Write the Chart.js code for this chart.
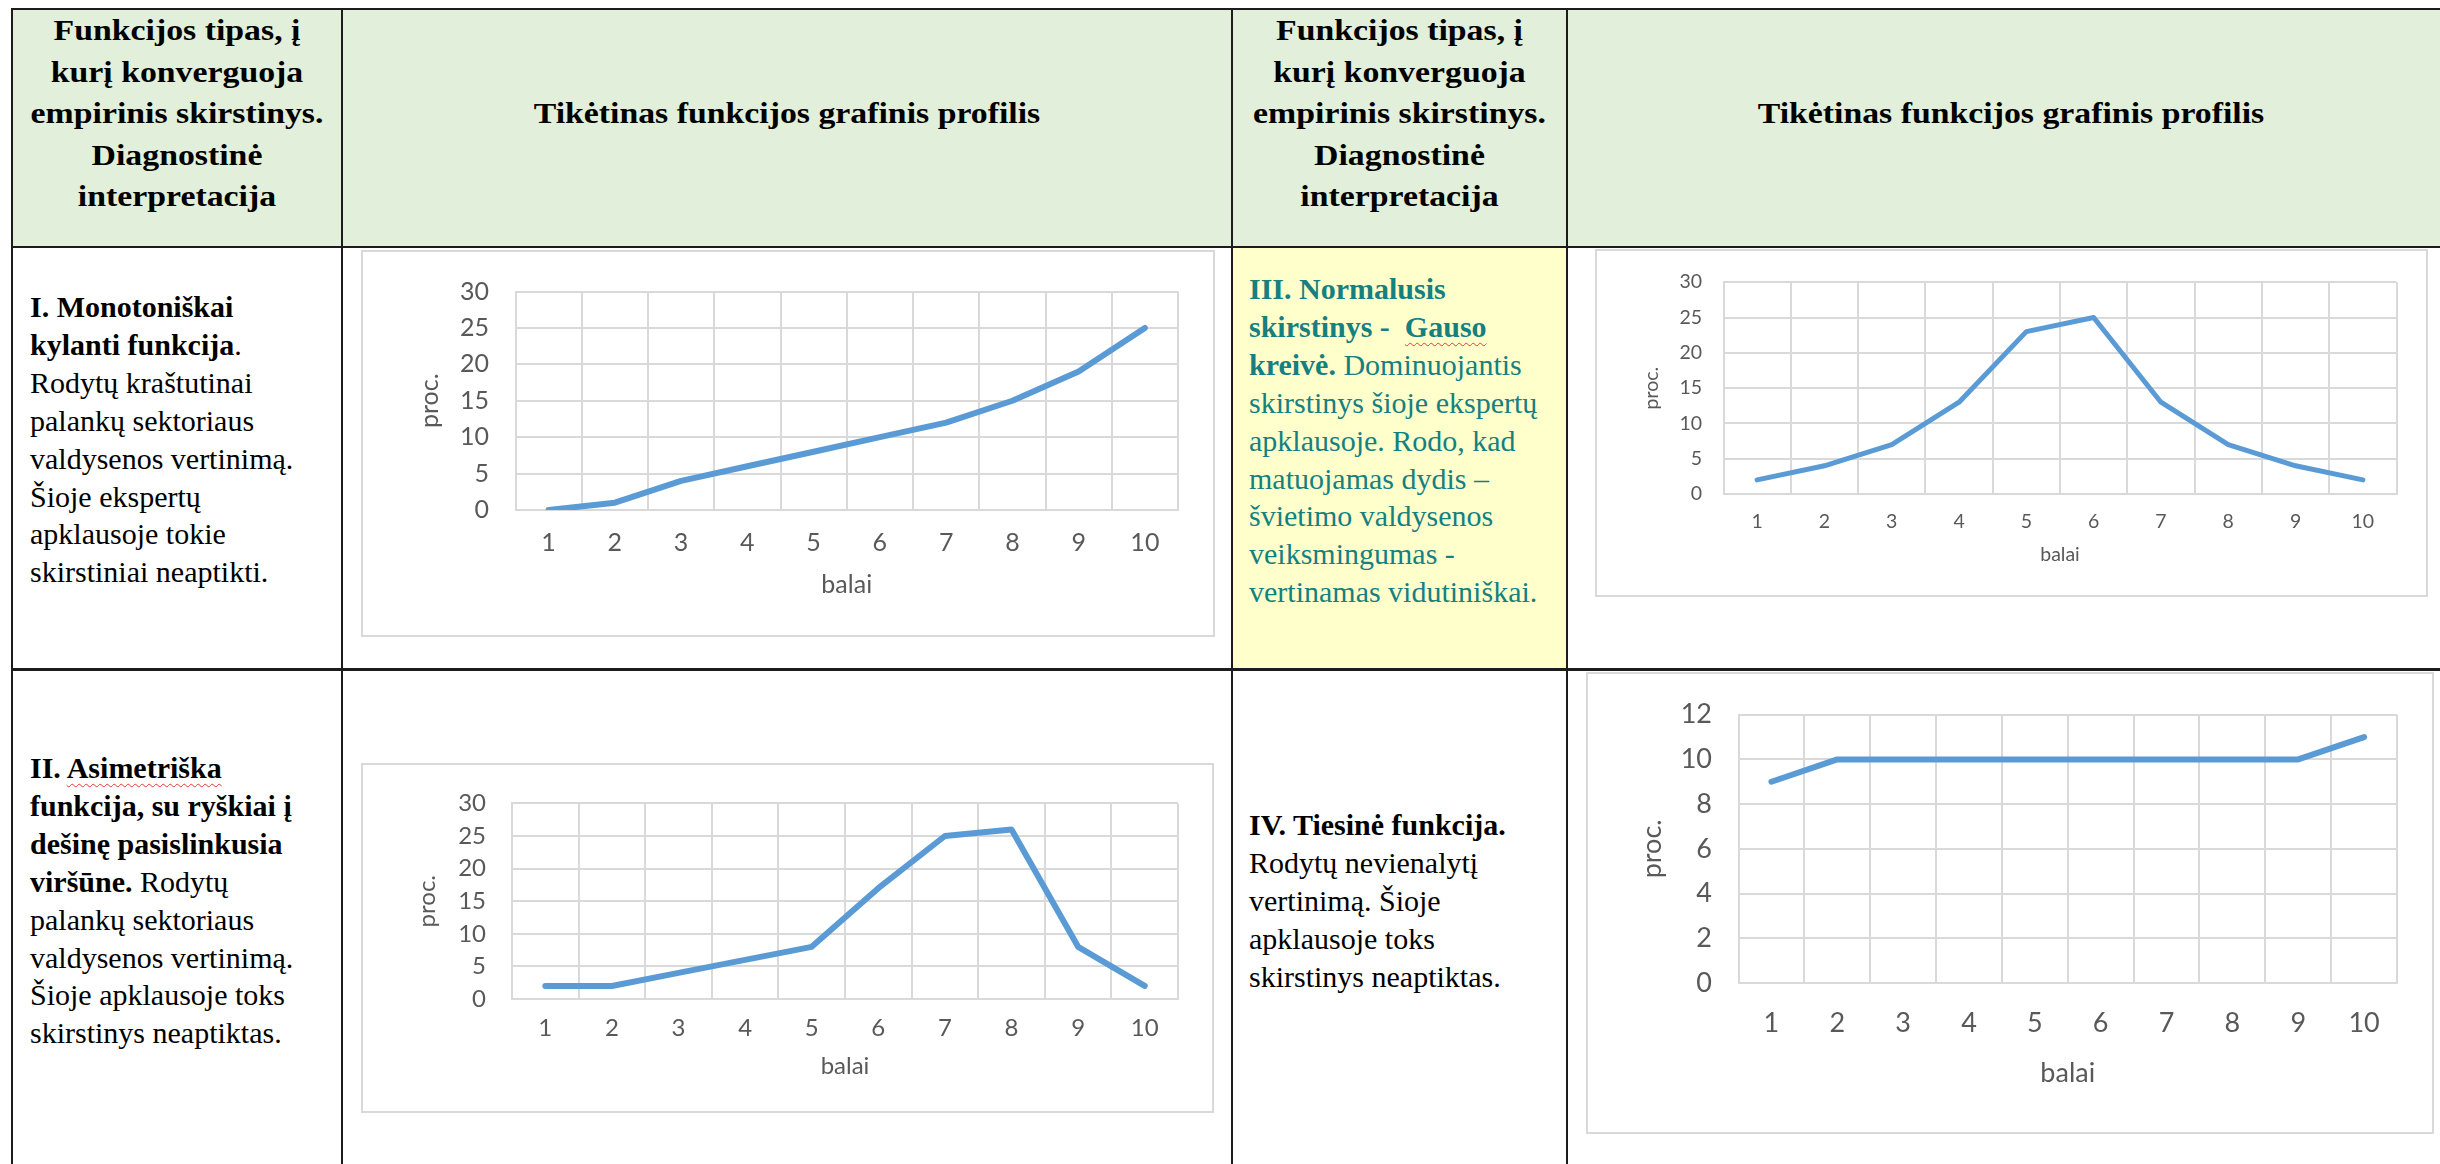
<!DOCTYPE html>
<html lang="lt">
<head>
<meta charset="utf-8">
<title>Tikėtinas funkcijos grafinis profilis</title>
<script src="https://cdn.jsdelivr.net/npm/chart.js@4.4.1/dist/chart.umd.min.js"></script>
<style>
  html, body { margin: 0; padding: 0; background: #fff; }
  body { width: 2440px; height: 1164px; position: relative; overflow: hidden;
         font-family: "Liberation Serif", "Times New Roman", serif; color: #000; }
  .line { position: absolute; background: #1c1c1c; }
  .fill { position: absolute; }
  .head { position: absolute; font-weight: bold; font-size: 29px; line-height: 41.5px;
          text-align: center; white-space: nowrap; transform: scaleX(1.165); transform-origin: center top; }
  .txt { position: absolute; font-size: 30px; line-height: 37.9px; white-space: nowrap; }
  .teal { color: #15807f; }
  .spell { text-decoration: underline wavy #e53935; text-decoration-thickness: 1px; text-underline-offset: 5px; }
  .box { position: absolute; border: 2px solid #d9d9d9; box-sizing: border-box; }
  canvas { position: absolute; }
</style>
</head>
<body>

<!-- cell backgrounds -->
<div class="fill" style="left:13px;top:10px;width:2440px;height:236px;background:#e2efda;"></div>
<div class="fill" style="left:1233px;top:248px;width:333px;height:420px;background:#ffffcc;"></div>

<!-- table rules -->
<div class="line" style="left:11px;top:8px;width:2440px;height:2px;"></div>
<div class="line" style="left:11px;top:246px;width:2440px;height:2px;"></div>
<div class="line" style="left:11px;top:668px;width:2440px;height:3px;"></div>
<div class="line" style="left:11px;top:8px;width:2px;height:1160px;"></div>
<div class="line" style="left:341px;top:8px;width:2px;height:1160px;"></div>
<div class="line" style="left:1231px;top:8px;width:2px;height:1160px;"></div>
<div class="line" style="left:1566px;top:8px;width:2px;height:1160px;"></div>

<!-- header -->
<div class="head" style="left:13px;top:10px;width:328px;">Funkcijos tipas, į<br>kurį konverguoja<br>empirinis skirstinys.<br>Diagnostinė<br>interpretacija</div>
<div class="head" style="left:343px;top:93px;width:888px;">Tikėtinas funkcijos grafinis profilis</div>
<div class="head" style="left:1233px;top:10px;width:333px;">Funkcijos tipas, į<br>kurį konverguoja<br>empirinis skirstinys.<br>Diagnostinė<br>interpretacija</div>
<div class="head" style="left:1568px;top:93px;width:886px;">Tikėtinas funkcijos grafinis profilis</div>

<!-- descriptions -->
<div class="txt" style="left:30px;top:288px;"><b>I. Monotoniškai<br>kylanti funkcija</b>.<br>Rodytų kraštutinai<br>palankų sektoriaus<br>valdysenos vertinimą.<br>Šioje ekspertų<br>apklausoje tokie<br>skirstiniai neaptikti.</div>
<div class="txt teal" style="left:1249px;top:270px;"><b>III. Normalusis<br>skirstinys -&nbsp; <span class="spell">Gauso</span><br>kreivė.</b> Dominuojantis<br>skirstinys šioje ekspertų<br>apklausoje. Rodo, kad<br>matuojamas dydis –<br>švietimo valdysenos<br>veiksmingumas -<br>vertinamas vidutiniškai.</div>
<div class="txt" style="left:30px;top:749px;"><b>II. <span class="spell">Asimetriška</span><br>funkcija, su ryškiai į<br>dešinę pasislinkusia<br>viršūne.</b> Rodytų<br>palankų sektoriaus<br>valdysenos vertinimą.<br>Šioje apklausoje toks<br>skirstinys neaptiktas.</div>
<div class="txt" style="left:1249px;top:806px;"><b>IV. Tiesinė funkcija.</b><br>Rodytų nevienalytį<br>vertinimą. Šioje<br>apklausoje toks<br>skirstinys neaptiktas.</div>

<!-- chart frames -->
<div class="box" style="left:361px;top:250px;width:854px;height:387px;"></div>
<canvas id="chart1" width="854" height="387" style="left:361px;top:250px;"></canvas>
<div class="box" style="left:361px;top:763px;width:853px;height:350px;"></div>
<canvas id="chart2" width="853" height="350" style="left:361px;top:763px;"></canvas>
<div class="box" style="left:1595px;top:249px;width:833px;height:348px;"></div>
<canvas id="chart3" width="833" height="348" style="left:1595px;top:249px;"></canvas>
<div class="box" style="left:1586px;top:672px;width:848px;height:462px;"></div>
<canvas id="chart4" width="848" height="462" style="left:1586px;top:672px;"></canvas>

<script>
// values
const balai = ['1', '2', '3', '4', '5', '6', '7', '8', '9', '10'];
const kylanti = [0, 1, 4, 6, 8, 10, 12, 15, 19, 25];        // I
const asimetriska = [2, 2, 4, 6, 8, 17, 25, 26, 8, 2];      // II
const normalusis = [2, 4, 7, 13, 23, 25, 13, 7, 4, 2];      // III
const tiesine = [9, 10, 10, 10, 10, 10, 10, 10, 10, 11];    // IV
const yTitle = 'proc.';
const xTitle = 'balai';

const GRID = '#d9d9d9';
const LABEL = '#595959';
const BLUE = '#5b9bd5';

// g: canvas size + where the plot area, labels and titles should sit (canvas px)
function profileChart(id, values, yMax, yStep, g) {
  const lh = g.font * 1.2;
  const font = { family: 'Lato', size: g.font };
  return new Chart(document.getElementById(id), {
    type: 'line',
    data: {
      labels: balai,
      datasets: [{
        data: values,
        borderColor: BLUE,
        borderWidth: g.line,
        borderCapStyle: 'round',
        borderJoinStyle: 'round',
        pointRadius: 0,
        tension: 0,
        fill: false,
      }],
    },
    options: {
      responsive: false,
      animation: false,
      devicePixelRatio: 1,
      layout: { padding: { left: 0, top: g.top, right: g.w - g.right, bottom: 0 } },
      plugins: { legend: { display: false }, tooltip: { enabled: false } },
      scales: {
        x: {
          offset: true,
          grid: { offset: true, color: GRID, lineWidth: 2, drawTicks: false },
          border: { color: GRID, width: 2 },
          ticks: { color: LABEL, font, padding: g.xLab - g.bottom - lh / 2, maxRotation: 0, autoSkip: false },
          title: { display: true, text: xTitle, color: LABEL, font, padding: { top: 0, bottom: g.h - g.xTitle - lh / 2 } },
          afterFit: (s) => { s.height = g.h - g.bottom; },
        },
        y: {
          min: 0,
          max: yMax,
          grid: { color: GRID, lineWidth: 2, drawTicks: false },
          border: { color: GRID, width: 2 },
          ticks: { stepSize: yStep, color: LABEL, font, padding: g.left - g.yLab },
          title: { display: true, text: yTitle, color: LABEL, font, padding: { top: g.yTitle - lh / 2, bottom: 0 } },
          afterFit: (s) => { s.width = g.left; },
        },
      },
    },
  });
}

profileChart('chart1', kylanti, 30, 5,
  { w: 854, h: 387, left: 154.5, right: 817, top: 31.5, bottom: 260, yLab: 128, yTitle: 69, xLab: 293, xTitle: 334.5, font: 25, line: 6 });
profileChart('chart2', asimetriska, 30, 5,
  { w: 853, h: 350, left: 151, right: 817, top: 28, bottom: 236, yLab: 125, yTitle: 66, xLab: 265, xTitle: 303, font: 24, line: 6 });
profileChart('chart3', normalusis, 30, 5,
  { w: 833, h: 348, left: 128.5, right: 801.5, top: 26, bottom: 245, yLab: 107, yTitle: 57, xLab: 272.5, xTitle: 306, font: 19.5, line: 5 });
profileChart('chart4', tiesine, 12, 2,
  { w: 848, h: 462, left: 152.5, right: 811, top: 38, bottom: 311, yLab: 126, yTitle: 66, xLab: 351, xTitle: 401, font: 27, line: 6 });
</script>
</body>
</html>
